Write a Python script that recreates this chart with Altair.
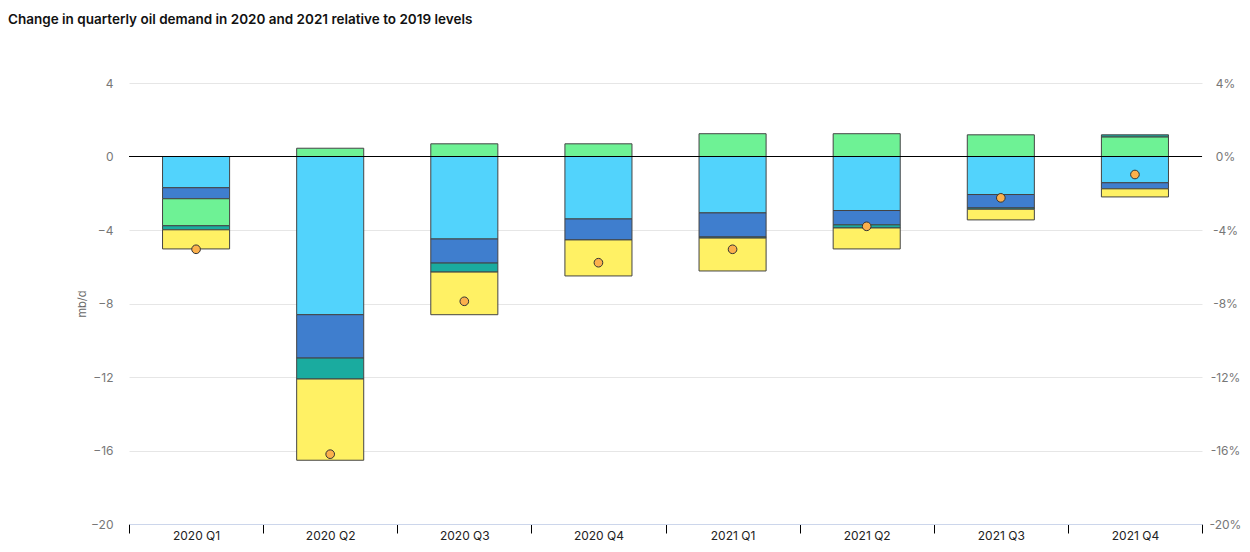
import altair as alt
import pandas as pd

quarters = ["2020 Q1", "2020 Q2", "2020 Q3", "2020 Q4", "2021 Q1", "2021 Q2", "2021 Q3", "2021 Q4"]
series_names = ["Category 1", "Category 2", "Category 3", "Category 4", "Category 5"]
series_colors = ["#52d3fc", "#3f7ece", "#6ef295", "#1aab9f", "#fff164"]

cat1 = [-1.70, -8.61, -4.49, -3.40, -3.07, -2.94, -2.07, -1.43]
cat2 = [-0.60, -2.36, -1.31, -1.14, -1.31, -0.78, -0.73, -0.33]
cat3 = [-1.47, 0.45, 0.69, 0.69, 1.24, 1.24, 1.18, 1.07]
cat4 = [-0.22, -1.14, -0.49, 0.0, -0.06, -0.17, -0.07, 0.11]
cat5 = [-1.04, -4.42, -2.32, -1.96, -1.79, -1.14, -0.58, -0.44]
total = [-5.05, -16.2, -7.88, -5.78, -5.05, -3.80, -2.25, -0.98]

y_ticks = [-20, -16, -12, -8, -4, 0, 4]

rows = []
for si, (name, vals) in enumerate(zip(series_names, [cat1, cat2, cat3, cat4, cat5])):
    for q, v in zip(quarters, vals):
        if v != 0:
            rows.append({"quarter": q, "series": name, "order": si, "value": v})
bars_df = pd.DataFrame(rows)
tot_df = pd.DataFrame({"quarter": quarters, "total": total})

FONT = "Inter"
yscale = alt.Scale(domain=[-20, 4], nice=False, zero=False)
xenc = alt.X("quarter:N", sort=quarters, title=None,
             scale=alt.Scale(paddingInner=0, paddingOuter=0),
             axis=alt.Axis(labelAngle=0, tickBand="extent", tickColor="#000", tickSize=9,
                           labelPadding=-3, labelColor="#222", labelFontSize=12,
                           labelFont=FONT, labelFontWeight=400,
                           domainColor="#ccd6eb", grid=False))

bars = alt.Chart(bars_df).mark_bar(
    width=alt.RelativeBandSize(0.5), stroke="#444", strokeWidth=1
).encode(
    x=xenc,
    y=alt.Y("value:Q", stack="zero", scale=yscale,
            axis=alt.Axis(values=y_ticks, title="mb/d", grid=True, gridColor="#e6e6e6",
                          domain=False, ticks=False, labelPadding=16, labelColor="#777",
                          labelFontSize=12, labelFont=FONT, titleFont=FONT, titleFontSize=11,
                          titleColor="#666", titleFontWeight="normal", titlePadding=3)),
    color=alt.Color("series:N", sort=series_names,
                    scale=alt.Scale(domain=series_names, range=series_colors), legend=None),
    order=alt.Order("order:Q", sort="ascending"),
)

zero = alt.Chart(tot_df).mark_rule(color="#000", strokeWidth=1.2).encode(
    y=alt.datum(0, scale=yscale, axis=None)
)

dots = alt.Chart(tot_df).mark_point(
    filled=True, fill="#fbb04c", stroke="#333", strokeWidth=1, size=75, opacity=1
).encode(
    x=alt.X("quarter:N", sort=quarters),
    y=alt.Y("total:Q", scale=yscale,
            axis=alt.Axis(orient="right", values=y_ticks, labelExpr="datum.value + '%'",
                          title=None, grid=False, domain=False, ticks=False, labelPadding=23,
                          labelAlign="center", labelColor="#777", labelFontSize=12,
                          labelFont=FONT)),
)

chart = alt.layer(bars, zero, dots).resolve_scale(y="independent").properties(
    width=1073, height=441,
    autosize=alt.AutoSizeParams(type="none"),
    padding={"left": 121, "top": 75, "right": 40, "bottom": 20},
    title=alt.TitleParams(
        "Change in quarterly oil demand in 2020 and 2021 relative to 2019 levels",
        anchor="start", frame="group", dx=-121, dy=-47, fontSize=13.5, fontWeight=600,
        font=FONT, color="#111"),
).configure_view(stroke=None)

chart.save("out.html", embed_options={"renderer": "svg", "actions": False})
